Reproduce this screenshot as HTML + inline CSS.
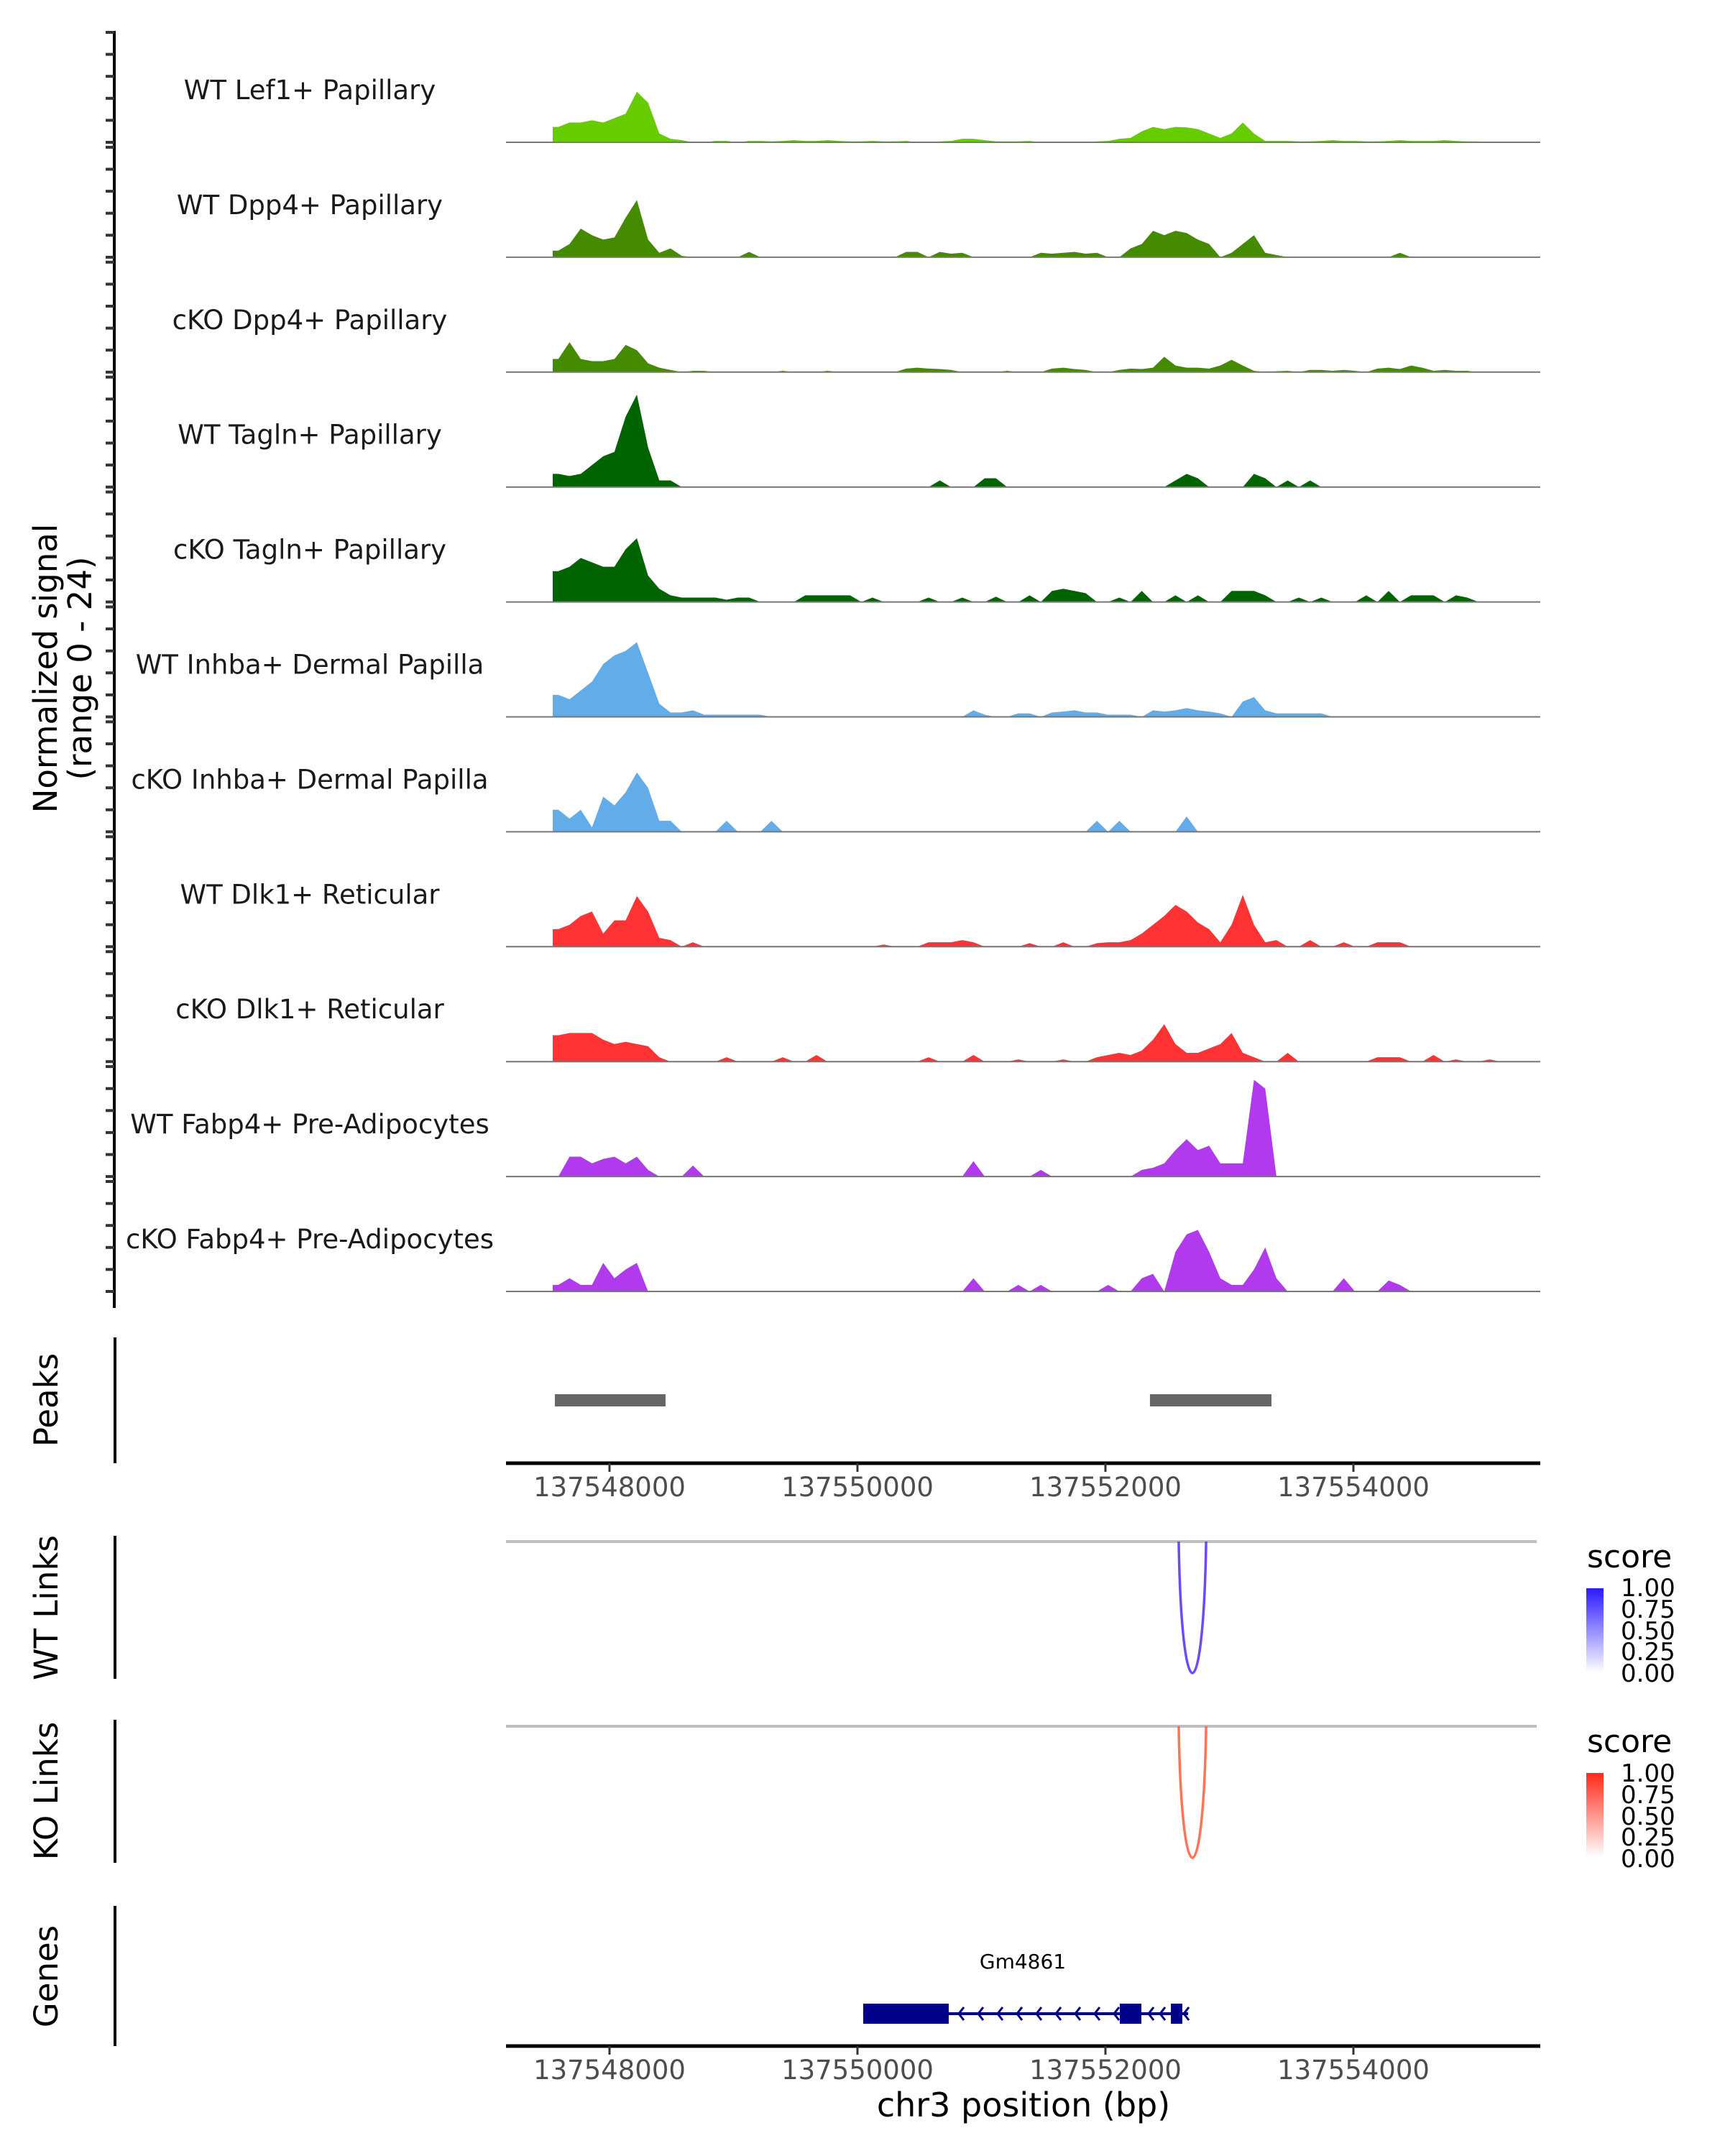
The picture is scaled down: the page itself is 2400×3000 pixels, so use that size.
<!DOCTYPE html>
<html><head><meta charset="utf-8"><style>
html,body{margin:0;padding:0;background:#fff}
svg{display:block}
text{font-family:"DejaVu Sans","Liberation Sans",sans-serif}
</style></head><body>
<svg id="chart" width="2400" height="3000" viewBox="0 0 2400 3000" xmlns="http://www.w3.org/2000/svg">
<g id="tracks"></g>
<g id="leftaxis"></g>
<text transform="translate(79,930) rotate(-90)" text-anchor="middle" font-size="45" fill="#000">Normalized signal</text>
<text transform="translate(127,930) rotate(-90)" text-anchor="middle" font-size="45" fill="#000">(range 0 - 24)</text>
<g id="peaks"></g>
<text transform="translate(80,1948) rotate(-90)" text-anchor="middle" font-size="45">Peaks</text>
<text transform="translate(80,2237) rotate(-90)" text-anchor="middle" font-size="45">WT Links</text>
<text transform="translate(80,2492) rotate(-90)" text-anchor="middle" font-size="45">KO Links</text>
<text transform="translate(80,2750) rotate(-90)" text-anchor="middle" font-size="45">Genes</text>
<g id="links"></g>
<g id="genes"></g>
<g id="xaxes"></g>
<text x="1424" y="2945" text-anchor="middle" font-size="46">chr3 position (bp)</text>
<defs>
<linearGradient id="gwt" x1="0" y1="1" x2="0" y2="0"><stop offset="0" stop-color="#ffffff"/><stop offset="1" stop-color="#2a1aff"/></linearGradient>
<linearGradient id="gko" x1="0" y1="1" x2="0" y2="0"><stop offset="0" stop-color="#ffffff"/><stop offset="1" stop-color="#ff2a1a"/></linearGradient>
</defs>
<g>
<text x="2208" y="2181" font-size="44">score</text>
<rect x="2207" y="2210" width="24" height="117" fill="url(#gwt)"/>
<text x="2255" y="2221" font-size="34">1.00</text><text x="2255" y="2251" font-size="34">0.75</text><text x="2255" y="2281" font-size="34">0.50</text><text x="2255" y="2310" font-size="34">0.25</text><text x="2255" y="2340" font-size="34">0.00</text>
</g>
<g>
<text x="2208" y="2438" font-size="44">score</text>
<rect x="2207" y="2467" width="24" height="117" fill="url(#gko)"/>
<text x="2255" y="2479" font-size="34">1.00</text><text x="2255" y="2509" font-size="34">0.75</text><text x="2255" y="2539" font-size="34">0.50</text><text x="2255" y="2568" font-size="34">0.25</text><text x="2255" y="2598" font-size="34">0.00</text>
</g>
</svg>
<script>
const NS="http://www.w3.org/2000/svg";
const binStart=137547542, binSize=90.5;
const trackNames=["WT Lef1+ Papillary","WT Dpp4+ Papillary","cKO Dpp4+ Papillary","WT Tagln+ Papillary","cKO Tagln+ Papillary","WT Inhba+ Dermal Papilla","cKO Inhba+ Dermal Papilla","WT Dlk1+ Reticular","cKO Dlk1+ Reticular","WT Fabp4+ Pre-Adipocytes","cKO Fabp4+ Pre-Adipocytes"];
const trackColors=["#66cc00","#458b00","#458b00","#006400","#006400","#63acea","#63acea","#ff3333","#ff3333","#b23aee","#b23aee"];
const sigLef1=[3.5,4.5,4.5,5,4.5,5.5,6.5,11.5,9,2,0.8,0.5,0,0,0.3,0.3,0,0.3,0.3,0.2,0.3,0.5,0.3,0.3,0.5,0.3,0.2,0.2,0.3,0.2,0.2,0.3,0,0,0.2,0.3,0.8,0.8,0.5,0.2,0.2,0.2,0.3,0,0,0,0,0,0.2,0.3,0.8,1,2.5,3.5,3,3.5,3.4,3,2,1,2,4.5,2,0.3,0.3,0.3,0.2,0.2,0.3,0.5,0.3,0.3,0.2,0.2,0.3,0.5,0.3,0.3,0.3,0.5,0.3,0.2,0.2,0,0];
const sigDpp4WT=[1.5,3,6.5,5,4,4.5,9,13,4,1,2,0.3,0,0,0,0,0,1.2,0,0,0,0,0,0,0,0,0,0,0,0,0,1.2,1.2,0,1.2,0.8,1,0,0,0,0,0,0,1,0.8,1,1.2,0.8,1,0,0,2,3,6,5,6,5.5,4,3,0,1,3,5,1,0.5,0,0,0,0,0,0,0,0,0,0,1,0,0,0,0,0,0,0,0,0];
const sigDpp4KO=[3,6.8,3,2.5,2.5,3,6.2,5,2,1,0.5,0,0.3,0.3,0,0,0,0,0,0,0.3,0,0,0,0.3,0,0,0,0,0,0,0.8,1,0.8,0.7,0.5,0,0,0,0,0.3,0,0,0,0.8,1,0.7,0.5,0,0,0.5,0.8,0.7,1,3.5,1.5,1,1,0.8,1.5,2.8,1.5,0.3,0,0.2,0.3,0,0.5,0.5,0.3,0.5,0.3,0,0.8,1,0.7,1.5,1,0.3,0.5,0.3,0.3,0,0,0];
const sigTaglnWT=[3,2.5,3,5,7,8,16,21,9,1.5,1.5,0,0,0,0,0,0,0,0,0,0,0,0,0,0,0,0,0,0,0,0,0,0,0,1.5,0,0,0,2,2,0,0,0,0,0,0,0,0,0,0,0,0,0,0,0,1.5,3,2,0,0,0,0,3,2,0,1.5,0,1.5,0,0,0,0,0,0,0,0,0,0,0,0,0,0,0,0,0];
const sigTaglnKO=[7,8,10,9,8,8,12,14.5,6,3,1.5,1,1,1,1,0.5,1,1,0,0,0,0,1.5,1.5,1.5,1.5,1.5,0,1,0,0,0,0,1,0,0,1,0,0,1.2,0,0,1.5,0,2.5,3,2.5,2,0,0,1,0,2.5,0,0,1.5,0,1.5,0,0,2.5,2.5,2.5,1.5,0,0,1,0,1,0,0,0,1.5,0,2.5,0,1.5,1.5,1.5,0,1.5,1,0,0,0];
const sigInhbaWT=[5,4,6,8,12,14,15,17,10,3,1,1,1.5,0.5,0.5,0.5,0.5,0.5,0.5,0,0,0,0,0,0,0,0,0,0,0,0,0,0,0,0,0,0,1.5,0.5,0,0,0.8,0.8,0,1,1.2,1.5,1,1,0.5,0.5,0.5,0,1.5,1.2,1.5,2,1.5,1.2,0.8,0,3.5,4.5,1.5,0.8,0.8,0.8,0.8,0.8,0,0,0,0,0,0,0,0,0,0,0,0,0,0,0,0];
const sigInhbaKO=[5,3,5,1,8,6,9,13.5,10,2.5,2.5,0,0,0,0,2.5,0,0,0,2.5,0,0,0,0,0,0,0,0,0,0,0,0,0,0,0,0,0,0,0,0,0,0,0,0,0,0,0,0,2.5,0,2.5,0,0,0,0,0,3.5,0,0,0,0,0,0,0,0,0,0,0,0,0,0,0,0,0,0,0,0,0,0,0,0,0,0,0,0];
const sigDlk1WT=[4,5,7,8,3,6,6,11.5,8,2,1.5,0,1,0,0,0,0,0,0,0,0,0,0,0,0,0,0,0,0,0.5,0,0,0,1,1,1,1.5,1,0,0,0,0,0.8,0,0,1,0,0,0.8,1,1,1.5,3,5,7,9.5,8,5.5,4,1,5,11.8,5,1,1.5,0,0,1.5,0,0,1,0,0,1,1,1,0,0,0,0,0,0,0,0,0];
const sigDlk1KO=[6,6.5,6.5,6.5,5,4,4.5,4,3.5,1,0,0,0,0,0,1,0,0,0,0,1,0,0,1.5,0,0,0,0,0,0,0,0,0,1,0,0,0,1.5,0,0,0,0.5,0,0,0,0.5,0,0,1,1.5,2,1.5,2.5,5,8.5,4,2,2,3,4,6.5,2,1,0,0,2,0,0,0,0,0,0,0,1,1,1,0,0,1.5,0,0.5,0,0,0.5,0];
const sigFabp4WT=[0,4.5,4.5,3,4,4.5,3,4.5,1.5,0,0,0,2.5,0,0,0,0,0,0,0,0,0,0,0,0,0,0,0,0,0,0,0,0,0,0,0,0,3.5,0,0,0,0,0,1.5,0,0,0,0,0,0,0,0,1.5,2,3,6,8.5,6,7,3,3,3,22,20,0,0,0,0,0,0,0,0,0,0,0,0,0,0,0,0,0,0,0,0,0];
const sigFabp4KO=[1.5,3,1.5,1.5,6.5,3,5,6.5,0,0,0,0,0,0,0,0,0,0,0,0,0,0,0,0,0,0,0,0,0,0,0,0,0,0,0,0,0,3,0,0,0,1.5,0,1.5,0,0,0,0,0,1.5,0,0,3,4,0,9,13,14,9,3,1.5,1.5,5,10,3,0,0,0,0,0,3,0,0,0,2.5,1.5,0,0,0,0,0,0,0,0,0];
const signals=[sigLef1,sigDpp4WT,sigDpp4KO,sigTaglnWT,sigTaglnKO,sigInhbaWT,sigInhbaKO,sigDlk1WT,sigDlk1KO,sigFabp4WT,sigFabp4KO];
const yTicks=[0,5,10,15,20,25];
const xTickVals=[137548000,137550000,137552000,137554000];
const peakStarts=[137547559,137552359];
const peakEnds=[137548452,137553339];
const linkStartsWT=[137552591], linkEndsWT=[137552812], linkScoresWT=[0.8];
const linkStartsKO=[137552591], linkEndsKO=[137552812], linkScoresKO=[0.75];
const exonStarts=[137550046,137552116,137552528];
const exonEnds=[137550736,137552290,137552620];
const geneStart=137550046, geneEnd=137552667;

const X0=704,X1=2143,bpPx=0.1725;
function x(pos){return 848+(pos-137548000)*bpPx;}
const trackH=159.9, pxPer=6.12;
function baseY(i){return 198+i*trackH;}
function y(i,v){return baseY(i)-v*pxPer;}
function mk(tag,attrs,parent){const e=document.createElementNS(NS,tag);for(const k in attrs)e.setAttribute(k,attrs[k]);parent.appendChild(e);return e;}

const tg=document.getElementById('tracks');
signals.forEach((s,i)=>{
  const g=mk('g',{},tg);
  
  
  const lbl=mk('text',{x:431,y:baseY(i)-60,'text-anchor':'middle','font-size':'37',fill:'#1a1a1a'},g);
  lbl.textContent=trackNames[i];
  
  
  let d='M'+x(binStart)+','+baseY(i)+' L'+x(binStart)+','+y(i,s[0]).toFixed(2);
  s.forEach((v,j)=>{const xc=x(binStart+(j+0.5)*binSize);d+=' L'+xc.toFixed(2)+','+y(i,v).toFixed(2);});
  const xe=x(binStart+s.length*binSize);
  d+=' L'+xe.toFixed(2)+','+baseY(i)+' Z';
  const p=mk('path',{d:d,fill:trackColors[i]},g);
  
  
  const bl=mk('line',{x1:X0,x2:X1,y1:baseY(i),y2:baseY(i),stroke:'#777','stroke-width':2},g);
  
  
});
const la=document.getElementById('leftaxis');
mk('line',{x1:159,x2:159,y1:43,y2:1820,stroke:'#000','stroke-width':4},la);
signals.forEach((s,i)=>{yTicks.forEach(t=>{mk('line',{x1:147,x2:159,y1:y(i,t),y2:y(i,t),stroke:'#333','stroke-width':4},la);});});

const pg=document.getElementById('peaks');
mk('line',{x1:160,x2:160,y1:1861,y2:2036,stroke:'#000','stroke-width':4},pg);
peakStarts.forEach((s,i)=>{const r=mk('rect',{x:x(s),y:1940,width:x(peakEnds[i])-x(s),height:17,fill:'#666'},pg);
  
  });

const xa=document.getElementById('xaxes');
[2036,2847].forEach(yy=>{
  mk('line',{x1:X0,x2:X1,y1:yy,y2:yy,stroke:'#000','stroke-width':5},xa);
  xTickVals.forEach(v=>{mk('line',{x1:x(v),x2:x(v),y1:yy,y2:yy+12,stroke:'#333','stroke-width':3},xa);
    const t=mk('text',{x:x(v),y:yy+46,'text-anchor':'middle','font-size':'37',fill:'#4d4d4d'},xa);t.textContent=v;
    
    });
});

const lg=document.getElementById('links');
function links(top,bot,axTop,axBot,starts,ends,scores,col){
  mk('line',{x1:160,x2:160,y1:axTop,y2:axBot,stroke:'#000','stroke-width':4},lg);
  mk('line',{x1:X0,x2:2138,y1:top,y2:top,stroke:'#bfbfbf','stroke-width':4},lg);
  starts.forEach((s,i)=>{const a=x(s),b=x(ends[i]);const cy=(bot-0.25*top)/0.75;
    const p=mk('path',{d:`M${a},${top} C${a+4},${cy} ${b-4},${cy} ${b},${top}`,fill:'none',stroke:col,'stroke-width':3.5,'stroke-opacity':0.4+0.6*scores[i]},lg);
    
    });
}
links(2145,2328,2137,2336,linkStartsWT,linkEndsWT,linkScoresWT,'#5a30ff');
links(2402,2585,2393,2592,linkStartsKO,linkEndsKO,linkScoresKO,'#ff5a3a');

const gg=document.getElementById('genes');
mk('line',{x1:160,x2:160,y1:2652,y2:2847,stroke:'#000','stroke-width':4},gg);
mk('line',{x1:x(geneStart),x2:x(geneEnd),y1:2802,y2:2802,stroke:'#00008b','stroke-width':4},gg);
exonStarts.forEach((s,i)=>{const r=mk('rect',{x:x(s),y:2788,width:x(exonEnds[i])-x(s),height:28,fill:'#00008b'},gg);
  
  });
for(let px=x(exonEnds[0])+14;px<x(exonStarts[1])-8;px+=27){mk('path',{d:`M${px+7},2793 L${px},2802 L${px+7},2811`,fill:'none',stroke:'#00008b','stroke-width':3},gg);}
[x(exonEnds[1])+10,x(exonEnds[1])+26,x(geneEnd)-6].forEach(px=>mk('path',{d:`M${px+7},2793 L${px},2802 L${px+7},2811`,fill:'none',stroke:'#00008b','stroke-width':3},gg));
const gl=mk('text',{x:1423,y:2739,'text-anchor':'middle','font-size':'28',fill:'#000'},gg);gl.textContent='Gm4861';


</script>
</body></html>
